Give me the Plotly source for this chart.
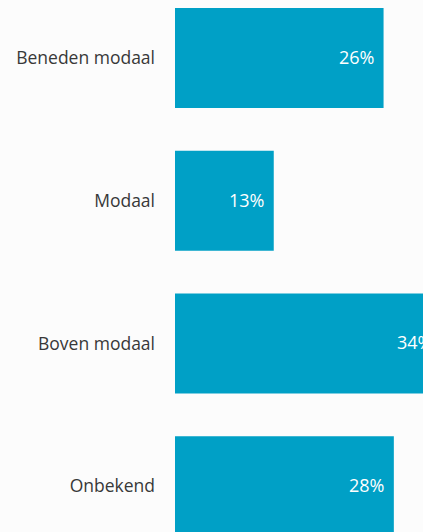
import plotly.graph_objects as go

categories = ["Beneden modaal", "Modaal", "Boven modaal", "Onbekend"]
values = [26.4, 12.5, 33.8, 27.7]
labels = ["26%", "13%", "34%", "28%"]

bar_color = "#00a0c6"
bg = "#fcfcfc"

fig = go.Figure()
fig.add_trace(go.Bar(
    y=categories, x=values, orientation="h",
    marker=dict(color=bar_color, line=dict(width=0)),
    width=0.7, hoverinfo="skip",
))

# percentage labels inside the bar ends
for cat, v, lab in zip(categories, values, labels):
    fig.add_annotation(
        x=v, y=cat, text=lab, showarrow=False,
        xanchor="right", xshift=-8, yshift=1,
        font=dict(color="white", size=18, family="Open Sans"),
    )

# the reference is a crop of a larger chart, so draw a bit wider/taller
fig.update_layout(
    width=470, height=560,
    margin=dict(l=175, r=0, t=0, b=0),
    paper_bgcolor=bg, plot_bgcolor=bg,
    showlegend=False,
    font=dict(family="Open Sans", size=17.5, color="#383838"),
)
fig.update_xaxes(range=[0, 37.34], visible=False, showgrid=False)
fig.update_yaxes(
    type="category", categoryorder="array", categoryarray=categories,
    range=[3.517, -0.406], showgrid=False, zeroline=False,
    ticks="", ticklabelstandoff=19, showline=False,
)

fig.write_html(
    "out.html",
    config={"displayModeBar": False},
    post_script="document.body.style.margin='0';document.body.style.overflow='hidden';",
)
